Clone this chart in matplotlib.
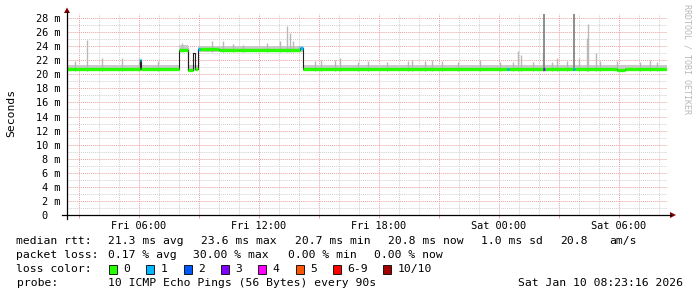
# SmokePing style latency graph (median rtt + smoke)

import matplotlib
matplotlib.use('Agg')
import matplotlib.pyplot as plt
from matplotlib.patches import Polygon, Rectangle

# time axis: hours since Fri 00:00
t_start = 2.40
t_end = 32.40

# median rtt segments: start time, value (ms), loss bucket (-1 = no colored line)
med_t = [2.40, 6.05, 6.12, 8.00, 8.45, 8.70, 8.78, 8.95, 9.05, 10.00, 11.00, 14.05, 14.18,
         24.42, 24.48, 26.22, 26.28, 27.72, 27.78, 29.90, 30.30]
med_v = [20.80, 22.00, 20.80, 23.45, 20.65, 23.00, 20.75, 23.60, 23.60, 23.40, 23.50, 23.80, 20.80,
         20.80, 20.80, 20.80, 20.80, 20.80, 20.80, 20.60, 20.75]
med_loss = [0, 1, 0, 0, 0, -1, 0, 1, 0, 0, 0, 1, 0,
            1, 0, 3, 0, 1, 0, 0, 0]

# smoke band around the median
band_t = [2.40, 8.00, 8.45, 8.95, 14.18]
band_lo = [20.45, 23.15, 20.40, 23.20, 20.45]
band_hi = [21.35, 24.20, 21.30, 24.05, 21.35]

# smoke spikes: time, top (ms)
spike_t = [2.80, 3.42, 4.15, 5.15, 6.00, 6.95, 8.15, 8.45, 9.67, 10.22, 10.70, 11.20, 12.38,
           13.05, 13.39, 13.55, 13.72, 14.00, 14.80, 15.10, 15.80, 16.05, 16.95, 17.45, 18.40,
           19.45, 19.65, 20.30, 20.65, 21.15, 21.95, 23.05, 24.05, 24.70, 24.97, 25.10, 25.70,
           26.19, 26.65, 26.89, 27.40, 28.00, 28.38, 28.47, 28.85, 29.05, 29.89, 31.05, 31.55, 31.89]
spike_top = [21.9, 24.9, 22.3, 22.3, 22.3, 21.9, 24.4, 23.9, 24.7, 24.7, 24.3, 24.1, 24.4,
             24.7, 26.8, 25.9, 24.7, 24.0, 21.9, 22.1, 22.1, 22.3, 21.7, 21.9, 21.7,
             21.9, 22.1, 21.9, 22.0, 21.9, 21.7, 22.0, 21.8, 21.8, 23.3, 22.8, 21.8,
             23.0, 21.8, 22.3, 21.9, 22.3, 25.2, 27.1, 23.0, 21.9, 21.9, 21.8, 22.0, 21.8]
# heavy spikes (several pings high)
big_t = [26.25, 27.77]
big_top = [28.5, 28.5]

loss_colors = ['#26ff00', '#00b8ff', '#0059ff', '#7e00ff', '#ff00ff', '#ff5500', '#ff0000', '#a10000']
loss_labels = ['0', '1', '2', '3', '4', '5', '6-9', '10/10']
loss_box_x = [109, 146, 184, 221, 258, 295.5, 332.5, 383]

x_tick_pos = [6, 12, 18, 24, 30]
x_tick_lab = ['Fri 06:00', 'Fri 12:00', 'Fri 18:00', 'Sat 00:00', 'Sat 06:00']
y_ticks = list(range(0, 29, 2))

W, H = 697, 297
fig = plt.figure(figsize=(W / 100, H / 100), dpi=100, facecolor='white')
mono = 'DejaVu Sans Mono'

# pixel overlay for axes arrows and legend
ov = fig.add_axes([0, 0, 1, 1], zorder=3)
ov.set_xlim(0, W)
ov.set_ylim(H, 0)
ov.axis('off')
ov.patch.set_alpha(0)

# data axes: x 67..667 px, y 215..14 px
ax = fig.add_axes([67 / W, 82 / H, 600 / W, 201 / H], zorder=2)
ax.set_xlim(t_start, t_end)
ax.set_ylim(0, 28.57)
ax.patch.set_facecolor('white')
for s in ax.spines.values():
    s.set_visible(False)

dot = (0, (1, 1))
for h in range(3, 33):
    c = '#e8a0a0' if h % 3 == 0 else '#d0d0d0'
    ax.axvline(h, color=c, lw=0.7, ls=dot, zorder=1)
for m in range(1, 29):
    c = '#e8a0a0' if m % 2 == 0 else '#d0d0d0'
    ax.axhline(m, color=c, lw=0.7, ls=dot, zorder=1)

# smoke
bt = band_t + [t_end]
ax.fill_between(bt, band_lo + [band_lo[-1]], band_hi + [band_hi[-1]], step='post',
                color='#cacaca', lw=0, zorder=2)
for t, top in zip(spike_t, spike_top):
    i = max(k for k in range(len(band_t)) if band_t[k] <= t)
    ax.vlines(t, band_lo[i], top, color='#b8b8b8', lw=1.0, zorder=2)
for t, top in zip(big_t, big_top):
    ax.vlines(t, 20.5, top, color='#858585', lw=1.3, zorder=2)

# median: thin dark line then colored thick segments
mt = med_t + [t_end]
ax.step(mt, med_v + [med_v[-1]], where='post', color='#202020', lw=0.8, zorder=3)
for i in range(len(med_t)):
    if med_loss[i] < 0:
        continue
    ax.hlines(med_v[i], mt[i], mt[i + 1], color=loss_colors[med_loss[i]], lw=2.4, zorder=4)

ax.set_xticks([h for h in range(3, 33, 3)])
ax.set_xticklabels([x_tick_lab[x_tick_pos.index(h)] if h in x_tick_pos else '' for h in range(3, 33, 3)],
                   fontfamily=mono, fontsize=7.4)
ax.set_yticks(y_ticks)
ax.set_yticklabels(['%d m' % v if v else '0  ' for v in y_ticks], fontfamily=mono, fontsize=7.4)
ax.tick_params(axis='x', length=2, width=0.7, direction='out', pad=2.5, color='#e8a0a0')
ax.tick_params(axis='y', length=0, pad=5)

# axis lines with arrows
ov.plot([62, 671], [215, 215], color='black', lw=0.9)
ov.plot([67, 67], [219, 12], color='black', lw=0.9)
ov.add_patch(Polygon([[670, 212], [676, 215], [670, 218]], closed=True, color='#800000', lw=0))
ov.add_patch(Polygon([[64, 13], [67, 7.5], [70, 13]], closed=True, color='#800000', lw=0))

ov.text(11, 113, 'Seconds', rotation=90, ha='center', va='center', fontfamily=mono, fontsize=8.2)
ov.text(687, 4, 'RRDTOOL / TOBI OETIKER', rotation=270, ha='center', va='top',
        fontfamily=mono, fontsize=6, color='#b8b8b8')

# legend
fs = 8.2
y1, y2, y3, y4 = 241, 255, 269, 283
ov.text(16.5, y1, 'median rtt:', va='center', fontfamily=mono, fontsize=fs)
for x, s in [(107.6, '21.3 ms avg'), (201.0, '23.6 ms max'), (294.6, '20.7 ms min'),
             (388.4, '20.8 ms now'), (481.3, '1.0 ms sd'), (560.3, '20.8'), (609.4, 'am/s')]:
    ov.text(x, y1, s, va='center', fontfamily=mono, fontsize=fs)
ov.text(16.5, y2, 'packet loss:', va='center', fontfamily=mono, fontsize=fs)
for x, s in [(107.6, '0.17 % avg'), (193.3, '30.00 % max'), (288, '0.00 % min'), (374, '0.00 % now')]:
    ov.text(x, y2, s, va='center', fontfamily=mono, fontsize=fs)
ov.text(16.5, y3, 'loss color:', va='center', fontfamily=mono, fontsize=fs)
for x, c, lab in zip(loss_box_x, loss_colors, loss_labels):
    ov.add_patch(Rectangle((x, y3 - 4.5), 8, 9, facecolor=c, edgecolor='black', lw=0.6))
    ov.text(x + 14.5, y3, lab, va='center', fontfamily=mono, fontsize=fs)
ov.text(16.5, y4, 'probe:', va='center', fontfamily=mono, fontsize=fs)
ov.text(107.6, y4, '10 ICMP Echo Pings (56 Bytes) every 90s', va='center', fontfamily=mono, fontsize=fs)
ov.text(683, y4, 'Sat Jan 10 08:23:16 2026', va='center', ha='right', fontfamily=mono, fontsize=fs)

plt.savefig('out.png', dpi=100, facecolor='white')
plt.close()
